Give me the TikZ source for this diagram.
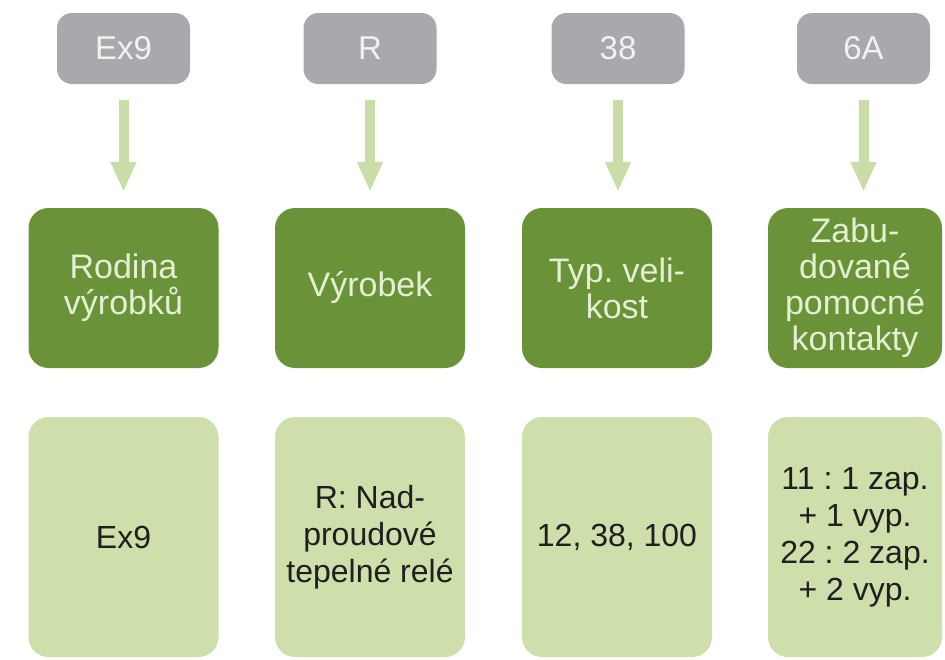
\documentclass[tikz,border=0pt]{standalone}
\usepackage{fontspec}
\setmainfont{Liberation Sans}
\usepackage{xcolor}
\usepackage{tikz}
\usetikzlibrary{arrows.meta}
\frenchspacing

\definecolor{codegray}{HTML}{A7A9AC}
\definecolor{famgreen}{HTML}{6A9339}
\definecolor{valgreen}{HTML}{CFDFAC}
\definecolor{feedgreen}{HTML}{CADCA8}
\definecolor{palegreen}{HTML}{E4EFD4}

\begin{document}
\begin{tikzpicture}[
  x=1pt, y=-1pt,
  codebox/.style={fill=codegray, text=white!95!black, rounded corners=15pt,
    minimum width=133pt, minimum height=71pt, inner sep=0pt,
    font=\fontsize{33}{37}\selectfont},
  namebox/.style={fill=famgreen, text=palegreen, rounded corners=20pt,
    minimum width=190pt, minimum height=160pt, inner sep=0pt, align=center,
    font=\fontsize{34}{36}\selectfont},
  valbox/.style={fill=valgreen, text=black!88, rounded corners=20pt,
    minimum width=190pt, minimum height=240pt, inner sep=0pt, align=center,
    font=\fontsize{32}{37}\selectfont},
  feed/.style={draw=feedgreen, line width=10pt,
    -{Triangle[width=24pt,length=30pt]}, shorten <=16pt, shorten >=16pt},
]

\useasboundingbox (0,0) rectangle (945,659);

\node [codebox] (c1) at (123.5,48.5) {Ex9};
\node [codebox] (c2) at (370,48.5) {R};
\node [codebox] (c3) at (618,48.5) {38};
\node [codebox] (c4) at (863.5,48.5) {6A};

\node [namebox] (n1) at (123.5,288) {Rodina\\výrobků};
\node [namebox] (n2) at (370,288) {Výrobek};
\node [namebox] (n3) at (617,288) {Typ. veli-\\kost};
\node [namebox, minimum width=174pt] (n4) at (855,288) {Zabu-\\dované\\pomocné\\kontakty};

\node [valbox] (v1) at (123.5,537) {Ex9};
\node [valbox] (v2) at (370,537) {R: Nad-\\proudové\\tepelné relé};
\node [valbox] (v3) at (617,537) {12, 38, 100};
\node [valbox, minimum width=174pt] (v4) at (855,537) {11 : 1 zap.\\+ 1 vyp.\\22 : 2 zap.\\+ 2 vyp.};

\draw [feed] (c1.south) -- (n1.north);
\draw [feed] (c2.south) -- (n2.north);
\draw [feed] (c3.south) -- (c3.south |- n3.north);
\draw [feed] (c4.south) -- (c4.south |- n4.north);

\end{tikzpicture}
\end{document}
